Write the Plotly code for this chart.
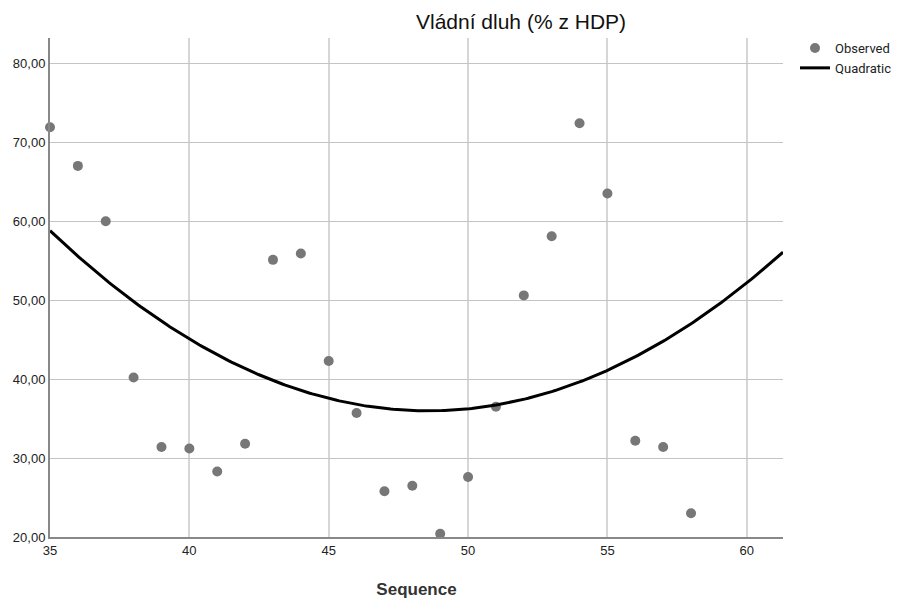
import numpy as np
import plotly.graph_objects as go

seq = [35, 36, 37, 38, 39, 40, 41, 42, 43, 44, 45, 46, 47, 48, 49, 50, 51, 52, 53, 54, 55, 56, 57, 58]
debt = [71.9, 67.0, 60.0, 40.2, 31.4, 31.2, 28.3, 31.8, 55.1, 55.9, 42.3, 35.7, 25.8, 26.5, 20.4,
        27.6, 36.5, 50.6, 58.1, 72.4, 63.5, 32.2, 31.4, 23.0]
y_ticks = [20, 30, 40, 50, 60, 70, 80]
x_ticks = [35, 40, 45, 50, 55, 60]
x_range = [35, 61.3]
y_range = [20, 83.2]

# quadratic fit (least squares) of observed values
coef = np.polyfit(seq, debt, 2)
xf = np.linspace(x_range[0], x_range[1], 300)
yf = np.polyval(coef, xf)

fig = go.Figure()
fig.add_trace(go.Scatter(x=seq, y=debt, mode="markers", name="Observed",
                         marker=dict(color="#777777", size=10), cliponaxis=False))
fig.add_trace(go.Scatter(x=xf, y=yf, mode="lines", name="Quadratic",
                         line=dict(color="#000000", width=3)))

font = "Liberation Sans, Arial, sans-serif"
fig.update_layout(
    width=896, height=591,
    margin=dict(l=42, r=121, t=30, b=62, autoexpand=False),
    paper_bgcolor="white", plot_bgcolor="white",
    separators=",.",
    font=dict(family=font, size=13, color="#222222"),
    title=dict(text="Vládní dluh (% z HDP)", x=0.6426, xref="paper", xanchor="center",
               y=1 - 14 / 591, yref="container", yanchor="middle",
               font=dict(family=font, size=21, color="#111111")),
    legend=dict(x=1.0164, y=1.01, xanchor="left", yanchor="top",
                font=dict(family="Roboto, sans-serif", size=13, color="#222222"),
                itemwidth=30, tracegroupgap=0, bgcolor="rgba(0,0,0,0)"),
    xaxis=dict(range=x_range, tickvals=x_ticks, showgrid=True, gridcolor="#d6d6d6", gridwidth=1.5,
               showline=True, linecolor="#888888", linewidth=2, zeroline=False, ticks="",
               automargin=False,
               title=dict(text="<b>Sequence</b>", standoff=29,
                          font=dict(family=font, size=17, color="#333333")),
               tickfont=dict(size=13, color="#222222")),
    yaxis=dict(range=y_range, tickvals=y_ticks, tickformat=".2f", showgrid=True, gridcolor="#c4c4c4",
               gridwidth=1, showline=True, linecolor="#888888", linewidth=2, zeroline=False, ticks="",
               automargin=False,
               tickfont=dict(size=13, color="#222222")),
)
fig.write_html("out.html")
